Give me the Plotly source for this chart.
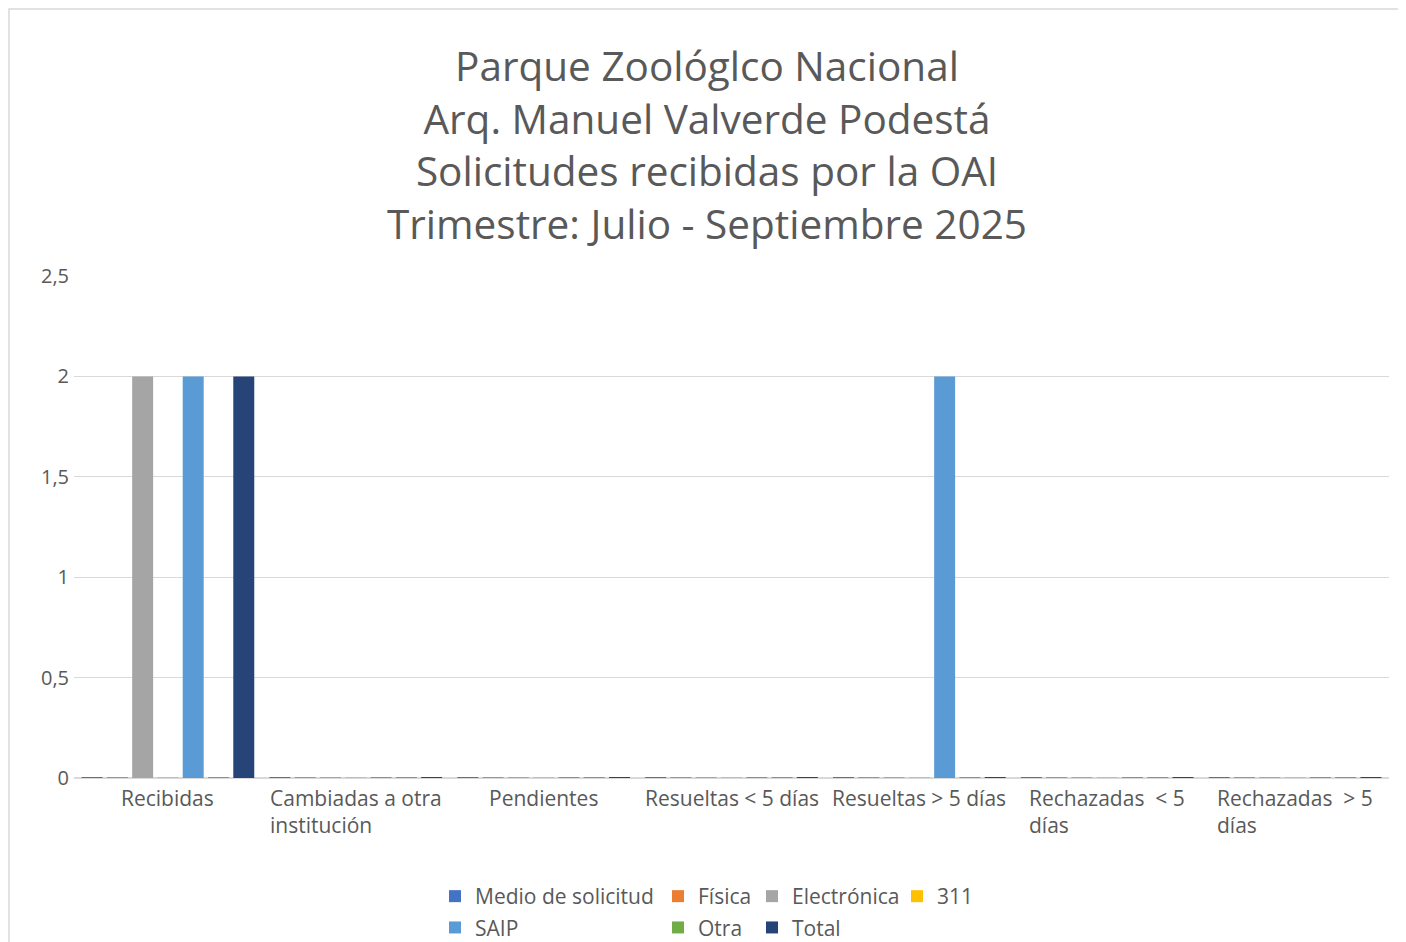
import plotly.graph_objects as go

categories = ["Recibidas", "Cambiadas a otra institución", "Pendientes", "Resueltas < 5 días",
              "Resueltas > 5 días", "Rechazadas \u00a0< 5 días", "Rechazadas \u00a0> 5 días"]
category_labels = ["Recibidas", "Cambiadas a otra<br>institución", "Pendientes", "Resueltas < 5 días",
                   "Resueltas > 5 días", "Rechazadas \u00a0< 5<br>días", "Rechazadas \u00a0> 5<br>días"]

medio = [0, 0, 0, 0, 0, 0, 0]
fisica = [0, 0, 0, 0, 0, 0, 0]
electronica = [2, 0, 0, 0, 0, 0, 0]
linea311 = [0, 0, 0, 0, 0, 0, 0]
saip = [2, 0, 0, 0, 2, 0, 0]
otra = [0, 0, 0, 0, 0, 0, 0]
total = [2, 0, 0, 0, 0, 0, 0]

series_names = ["Medio de solicitud", "Física", "Electrónica", "311", "SAIP", "Otra", "Total"]
series_values = [medio, fisica, electronica, linea311, saip, otra, total]
colors = ["#4472C4", "#ED7D31", "#A5A5A5", "#FFC000", "#5B9BD5", "#70AD47", "#264478"]
legend_ids = ["legend", "legend2", "legend3", "legend4", "legend", "legend2", "legend3"]

yticks = [0, 0.5, 1, 1.5, 2, 2.5]

FONT = "Open Sans"
GREY = "#595959"
OFF = 8  # page body margin: figure starts at screen (8, 8)
W, H = 1406 - OFF, 942 - OFF
L, R, T = 74 - OFF, 17, 276 - OFF
PH = 502
B = H - T - PH
PW = W - L - R
ZERO_MARK = 0.01  # visual thickness of zero-value bars (Excel draws them as hairlines)


def px_x(screen_x):
    return (screen_x - OFF - L) / PW


def px_y(screen_y):
    return (T + PH - (screen_y - OFF)) / PH


fig = go.Figure()
for name, vals, col, lg in zip(series_names, series_values, colors, legend_ids):
    fig.add_trace(go.Bar(
        x=categories, y=vals, name=name, marker=dict(color=col, line=dict(width=0)),
        offsetgroup=name, legend=lg, legendgroup=name,
    ))
for name, vals, col in zip(series_names, series_values, colors):
    fig.add_trace(go.Bar(
        x=categories, y=[ZERO_MARK if v == 0 else None for v in vals],
        base=[-ZERO_MARK / 2] * len(vals),
        marker=dict(color=col, line=dict(width=0)),
        offsetgroup=name, showlegend=False, hoverinfo="skip",
    ))

annotations = []
for cat, lab in zip(categories, category_labels):
    annotations.append(dict(
        x=cat, xref="x", y=px_y(782), yref="paper", yanchor="top",
        xanchor="center", text=lab, align="left", showarrow=False,
        font=dict(family=FONT, size=21, color=GREY),
    ))

shapes = [
    dict(type="rect", xref="paper", yref="paper", x0=px_x(OFF + 1), x1=px_x(1430), y0=px_y(OFF + 1), y1=px_y(970),
         line=dict(color="#D9D9D9", width=1.5), fillcolor="rgba(0,0,0,0)", layer="below"),
]

leg_common = dict(orientation="v", yanchor="top", xanchor="left",
                  font=dict(family=FONT, size=21, color=GREY), traceorder="grouped",
                  tracegroupgap=1, bgcolor="rgba(0,0,0,0)", borderwidth=0)
LEG_Y = px_y(876)

fig.update_layout(
    width=W, height=H,
    margin=dict(l=L, r=R, t=T, b=B, autoexpand=False),
    paper_bgcolor="white", plot_bgcolor="white",
    separators=",.",
    barmode="group", bargap=0.058, bargroupgap=0.17,
    title=dict(
        text="Parque Zoológlco Nacional<br>Arq. Manuel Valverde Podestá<br>Solicitudes recibidas por la OAI<br>Trimestre: Julio - Septiembre 2025",
        x=(707 - OFF) / W, xanchor="center", y=1 - (81 - OFF) / H, yanchor="middle", yref="container",
        font=dict(family=FONT, size=40.5, color=GREY),
    ),
    xaxis=dict(type="category", range=[-0.5, 6.5], showticklabels=False, showgrid=False,
               showline=False, zeroline=False, ticks=""),
    yaxis=dict(range=[0, 2.5], tickvals=yticks, showgrid=True, gridcolor="#D9D9D9", gridwidth=1,
               zeroline=True, zerolinecolor="#D9D9D9", zerolinewidth=2, showline=False, ticks="",
               tickfont=dict(family=FONT, size=20, color=GREY), ticklen=0, ticklabelstandoff=4),
    annotations=annotations,
    shapes=shapes,
    legend=dict(x=px_x(435), y=LEG_Y, **leg_common),
    legend2=dict(x=px_x(658), y=LEG_Y, **leg_common),
    legend3=dict(x=px_x(752), y=LEG_Y, **leg_common),
    legend4=dict(x=px_x(897), y=LEG_Y, **leg_common),
    showlegend=True,
)

fig.write_html("out.html")
